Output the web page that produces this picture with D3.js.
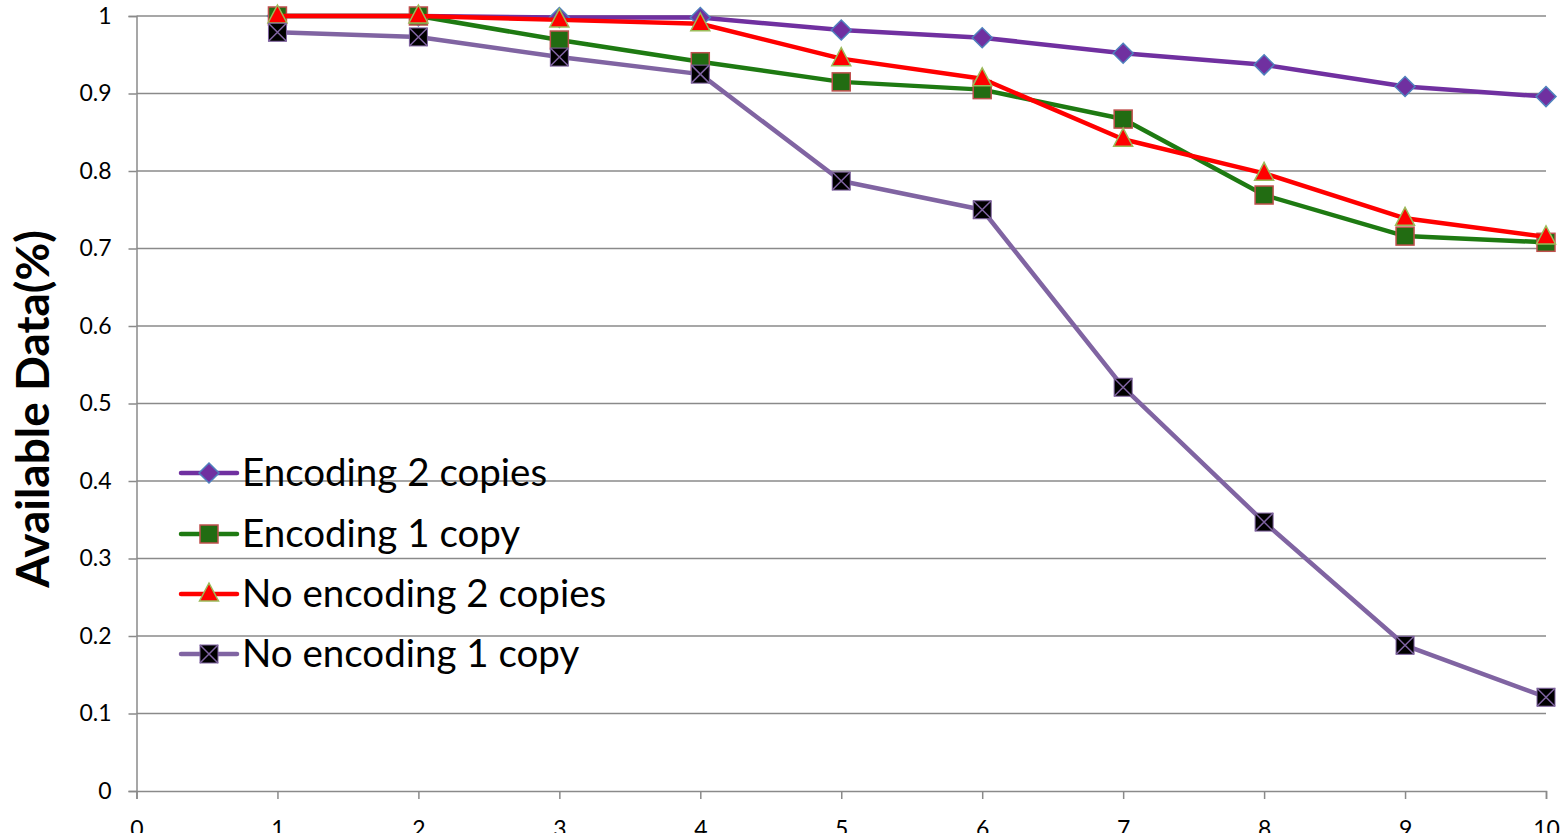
<!DOCTYPE html>
<html>
<head>
<meta charset="utf-8">
<script src="https://cdn.jsdelivr.net/npm/d3@7"></script>
<style>
  html, body { margin: 0; padding: 0; background: #fff; }
  svg { display: block; }
  text { font-family: Lato, "Open Sans", sans-serif; fill: #000; }
</style>
</head>
<body>
<svg id="chart" width="1560" height="833"></svg>
<script>
// Number of failed nodes on the x axis
const xValues = [1, 2, 3, 4, 5, 6, 7, 8, 9, 10];
const xTicks = [0, 1, 2, 3, 4, 5, 6, 7, 8, 9, 10];
const yTicks = [0, 0.1, 0.2, 0.3, 0.4, 0.5, 0.6, 0.7, 0.8, 0.9, 1];

// Fraction of data still available, per scheme
const encoding2Copies   = [1.000, 1.000, 0.998, 0.998, 0.982, 0.972, 0.952, 0.937, 0.909, 0.896];
const encoding1Copy     = [1.000, 1.000, 0.969, 0.941, 0.915, 0.905, 0.867, 0.769, 0.716, 0.708];
const noEncoding2Copies = [1.000, 1.000, 0.995, 0.990, 0.945, 0.919, 0.841, 0.797, 0.739, 0.715];
const noEncoding1Copy   = [0.979, 0.973, 0.947, 0.925, 0.787, 0.750, 0.521, 0.347, 0.188, 0.121];

const seriesNames = ["Encoding 2 copies", "Encoding 1 copy", "No encoding 2 copies", "No encoding 1 copy"];
const seriesValues = [encoding2Copies, encoding1Copy, noEncoding2Copies, noEncoding1Copy];

const styles = [
  { line: "#7030A0", fill: "#7030A0", stroke: "#4F81BD", shape: "diamond" },
  { line: "#1E7A12", fill: "#226C12", stroke: "#C0504D", shape: "square" },
  { line: "#FF0000", fill: "#FF0000", stroke: "#9BBB59", shape: "triangle" },
  { line: "#8064A2", fill: "#000000", stroke: "#8064A2", shape: "xsquare" }
];

const svg = d3.select("#chart");
const margin = { left: 136.5, right: 1546, top: 16, bottom: 791 };

const x = d3.scaleLinear().domain([0, 10]).range([margin.left, margin.right]);
const y = d3.scaleLinear().domain([0, 1]).range([margin.bottom, margin.top]);

const gridColor = "#8a8a8a";

// Horizontal gridlines
svg.append("g")
  .selectAll("line")
  .data(yTicks.filter(d => d > 0))
  .join("line")
  .attr("x1", margin.left).attr("x2", margin.right)
  .attr("y1", d => y(d)).attr("y2", d => y(d))
  .attr("stroke", gridColor).attr("stroke-width", 1.5);

// Y axis
const yAxis = svg.append("g")
  .attr("transform", `translate(${margin.left},0)`)
  .call(d3.axisLeft(y).tickValues(yTicks).tickSize(8).tickPadding(17)
    .tickFormat(d => d === 0 || d === 1 ? String(d) : d3.format(".1f")(d)));
yAxis.select(".domain").attr("stroke", gridColor).attr("stroke-width", 1.5);
yAxis.selectAll(".tick line").attr("stroke", gridColor).attr("stroke-width", 1.5);
yAxis.selectAll(".tick text").attr("font-size", 23).attr("font-family", "Lato").attr("fill", "#000");

// X axis
const xAxis = svg.append("g")
  .attr("transform", `translate(0,${margin.bottom})`)
  .call(d3.axisBottom(x).tickValues(xTicks).tickSize(8).tickPadding(22).tickFormat(d3.format("d")));
xAxis.select(".domain").attr("stroke", gridColor).attr("stroke-width", 1.5);
xAxis.selectAll(".tick line").attr("stroke", gridColor).attr("stroke-width", 1.5);
xAxis.selectAll(".tick text").attr("font-size", 23).attr("font-family", "Lato").attr("fill", "#000");

// Y axis title
svg.append("text")
  .attr("transform", `translate(49,${(233 + 585) / 2}) rotate(-90)`)
  .attr("text-anchor", "middle")
  .attr("font-size", 46).attr("font-weight", "bold")
  .text("Available Data(%)");

// Marker drawing
function drawMarker(g, style) {
  if (style.shape === "diamond") {
    g.append("path").attr("d", "M0,-10L10,0L0,10L-10,0Z")
      .attr("fill", style.fill).attr("stroke", style.stroke).attr("stroke-width", 1.5);
  } else if (style.shape === "square") {
    g.append("rect").attr("x", -9).attr("y", -9).attr("width", 18).attr("height", 18)
      .attr("fill", style.fill).attr("stroke", style.stroke).attr("stroke-width", 1.5);
  } else if (style.shape === "triangle") {
    g.append("path").attr("d", "M0,-11L9.5,7L-9.5,7Z")
      .attr("fill", style.fill).attr("stroke", style.stroke).attr("stroke-width", 1.5);
  } else {
    g.append("rect").attr("x", -9).attr("y", -9).attr("width", 18).attr("height", 18)
      .attr("fill", style.fill).attr("stroke", style.stroke).attr("stroke-width", 1);
    g.append("path").attr("d", "M-9,-9L9,9M9,-9L-9,9")
      .attr("stroke", style.stroke).attr("stroke-width", 1.5);
  }
}

const line = d3.line().x(d => x(d.x)).y(d => y(d.y));

seriesValues.forEach((vals, i) => {
  const pts = vals.map((v, j) => ({ x: xValues[j], y: v }));
  const g = svg.append("g");
  g.append("path").datum(pts).attr("d", line)
    .attr("fill", "none").attr("stroke", styles[i].line)
    .attr("stroke-width", 4.5).attr("stroke-linejoin", "round");
  pts.forEach(p => {
    const m = g.append("g").attr("transform", `translate(${x(p.x)},${y(p.y)})`);
    drawMarker(m, styles[i]);
  });
});

// Legend
const legendRows = [473, 534, 594, 654];
seriesNames.forEach((name, i) => {
  const g = svg.append("g").attr("transform", `translate(0,${legendRows[i]})`);
  g.append("line").attr("x1", 181).attr("x2", 237).attr("y1", 0).attr("y2", 0)
    .attr("stroke", styles[i].line).attr("stroke-width", 4.5).attr("stroke-linecap", "round");
  drawMarker(g.append("g").attr("transform", "translate(209,0)"), styles[i]);
  g.append("text").attr("x", 242).attr("y", 13)
    .attr("font-size", 38.5).text(name);
});
</script>
</body>
</html>
